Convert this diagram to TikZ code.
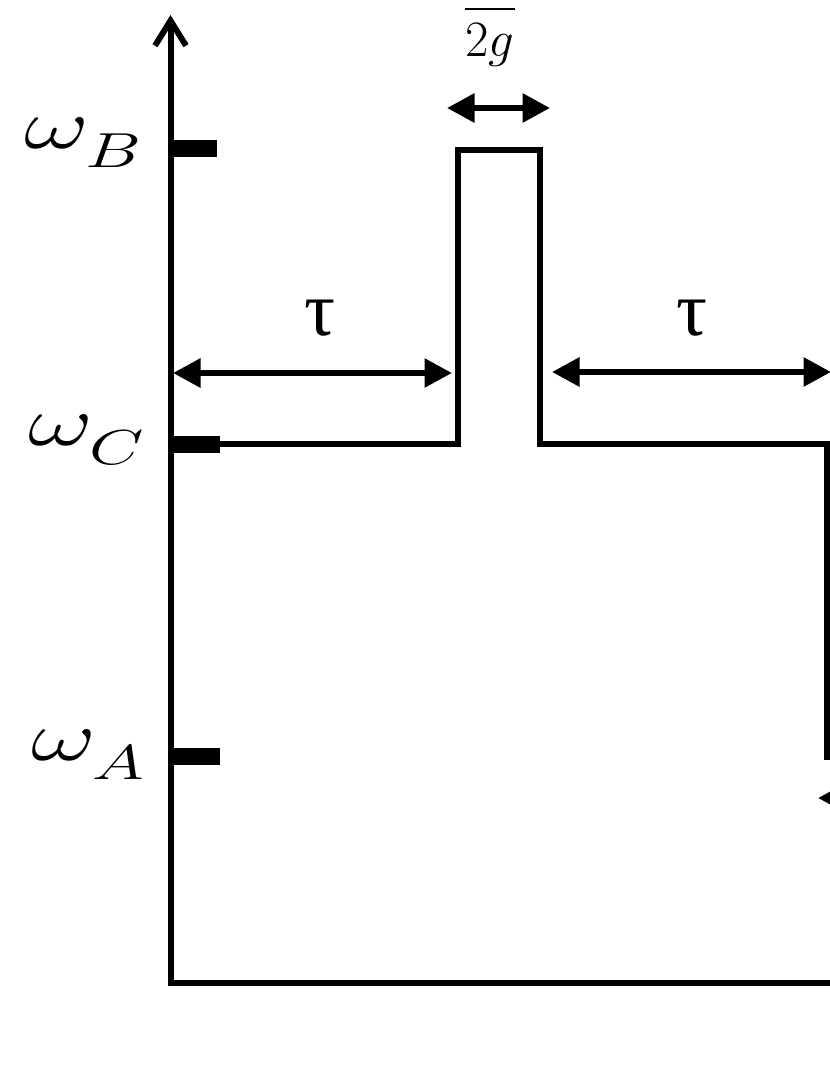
\RequirePackage{fix-cm}
\documentclass[tikz,border=0pt]{standalone}
\usepackage{amsmath}
\usepackage{fontspec}
\newfontfamily\taufont{Liberation Serif}
\usetikzlibrary{arrows.meta}
\usetikzlibrary{positioning}
\tikzstyle{axisline} = [line width=0.12cm, {Straight Barb[length=0.5cm,width=0.62cm]}-]
\tikzstyle{tickmark} = [line width=0.34cm]
\tikzstyle{signal}   = [line width=0.12cm]
\tikzstyle{dimarrow} = [line width=0.12cm, {Triangle[length=0.55cm,width=0.56cm]}-{Triangle[length=0.55cm,width=0.56cm]}]
\tikzstyle{wlabel}   = [anchor=base east, inner sep=0pt, xscale=1.43, font=\fontsize{40}{48}\selectfont]
\tikzstyle{taulabel} = [inner sep=0pt, font=\fontsize{44}{50}\selectfont\taufont]
\newcommand{\lowsub}[1]{_{\lower 5pt\hbox{$\scriptstyle #1$}}}

\begin{document}
\begin{tikzpicture}
     \useasboundingbox (0,0) rectangle (16.6,-21.5);
     \clip (0,0) rectangle (16.6,-21.5);
% axes
     \coordinate (top) at (3.41,-0.3);
     \coordinate (origin) at (3.41,-19.66);
     \draw[axisline] (top) -- (origin) -- +(14,0);
% levels
     \draw[tickmark] (3.41,-2.97) -- +(0.93,0);
     \draw[tickmark] (3.41,-8.88) -- +(0.99,0);
     \draw[tickmark] (3.41,-15.13) -- +(0.99,0);
     \node[wlabel] (wB) at (2.86,-2.96) {$\omega\lowsub{B}$};
     \node[wlabel] (wC) at (2.92,-8.9) {$\omega\lowsub{C}$};
     \node[wlabel] (wA) at (2.92,-15.2) {$\omega\lowsub{A}$};
% frequency
     \draw[signal] (3.41,-8.88) -- (9.16,-8.88) -- (9.16,-3.0) -- (10.8,-3.0)
       -- (10.8,-8.88) -- (16.54,-8.88) -- (16.54,-15.14) -- +(1,0);
% durations
     \coordinate (l1) at (3.46,-7.46);
     \coordinate (r1) at (9.04,-7.46);
     \coordinate (l2) at (11.04,-7.44);
     \coordinate (r2) at (16.62,-7.44);
     \coordinate (l3) at (8.94,-2.16);
     \coordinate (r3) at (11.0,-2.16);
     \coordinate (l4) at (16.36,-15.96);
     \draw[dimarrow] (l1) -- (r1);
     \draw[dimarrow] (l2) -- (r2);
     \draw[dimarrow] (l3) -- (r3);
     \draw[dimarrow] (l4) -- +(2,0);
     \node[taulabel] (tauL) at (6.4,-6.37) {τ};
     \node[taulabel] (tauR) at (13.84,-6.37) {τ};
     \node[anchor=base, inner sep=0pt, font=\fontsize{29}{34}\selectfont] (gap) at (9.8,-0.44) {$\dfrac{\pi}{2g}$};
\end{tikzpicture}
\end{document}
